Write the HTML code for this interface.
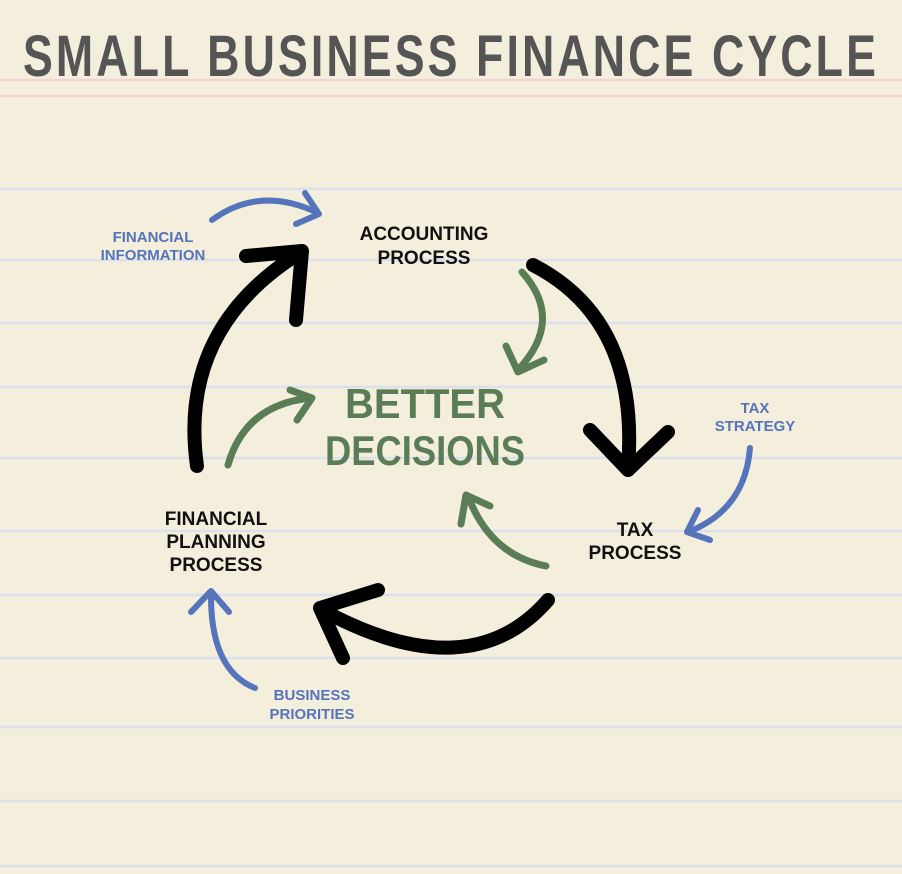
<!DOCTYPE html>
<html><head><meta charset="utf-8"><style>
html,body{margin:0;padding:0;background:#f4efdc}
svg{display:block}
text{font-family:"Liberation Sans",sans-serif;font-weight:bold;text-anchor:middle}
</style></head><body>
<svg width="902" height="874" viewBox="0 0 902 874" xmlns="http://www.w3.org/2000/svg">
<rect width="902" height="874" fill="#f4efdc"/>
<g stroke="#f3d6d2" stroke-width="2.5"><line x1="0" y1="80" x2="902" y2="80"/><line x1="0" y1="96" x2="902" y2="96"/></g>
<g stroke="#dce0ee" stroke-width="2.5">
<line x1="0" y1="189" x2="902" y2="189"/><line x1="0" y1="260" x2="902" y2="260"/>
<line x1="0" y1="323" x2="902" y2="323"/><line x1="0" y1="387" x2="902" y2="387"/>
<line x1="0" y1="458" x2="902" y2="458"/><line x1="0" y1="531" x2="902" y2="531"/>
<line x1="0" y1="595" x2="902" y2="595"/><line x1="0" y1="658" x2="902" y2="658"/>
<line x1="0" y1="727" x2="902" y2="727"/><line x1="0" y1="801" x2="902" y2="801"/>
<line x1="0" y1="866" x2="902" y2="866"/>
</g>
<text x="451" y="76" font-size="58" fill="#555" letter-spacing="4" textLength="856" lengthAdjust="spacingAndGlyphs">SMALL BUSINESS FINANCE CYCLE</text>
<g fill="none" stroke="#000" stroke-width="14" stroke-linecap="round" stroke-linejoin="round">
<path d="M197,466 Q178,330 298,254"/><path d="M246,256 L302,251 L296,320"/>
<path d="M533,265 Q640,320 628,468"/><path d="M590,430 L628,470 L668,432"/>
<path d="M548,600 Q470,690 322,610"/><path d="M343,658 L320,608 L378,590"/>
</g>
<g fill="none" stroke="#5a7d56" stroke-width="7" stroke-linecap="round" stroke-linejoin="round">
<path d="M522,272 Q565,320 518,370"/><path d="M506,346 L518,372 L544,360"/>
<path d="M228,465 Q245,405 310,398"/><path d="M290,390 L312,398 L297,420"/>
<path d="M546,566 Q490,555 468,496"/><path d="M461,524 L466,495 L490,506"/>
</g>
<g fill="none" stroke="#5574bb" stroke-width="6" stroke-linecap="round" stroke-linejoin="round">
<path d="M212,220 Q260,185 318,213"/><path d="M305,193 L319,214 L296,224"/>
<path d="M750,448 Q745,510 688,532"/><path d="M698,510 L687,532 L710,540"/>
<path d="M255,688 Q210,670 211,593"/><path d="M191,612 L211,591 L229,612"/>
</g>
<g fill="#111" font-size="19">
<text x="424" y="240">ACCOUNTING</text><text x="424" y="264">PROCESS</text>
<text x="216" y="525">FINANCIAL</text><text x="216" y="548">PLANNING</text><text x="216" y="571">PROCESS</text>
<text x="635" y="536">TAX</text><text x="635" y="559">PROCESS</text>
</g>
<g fill="#5a7d56" font-size="42" font-weight="normal">
<text x="425" y="418" textLength="160" lengthAdjust="spacingAndGlyphs">BETTER</text>
<text x="425" y="465" textLength="200" lengthAdjust="spacingAndGlyphs">DECISIONS</text>
</g>
<g fill="#5574bb" font-size="15">
<text x="153" y="242">FINANCIAL</text><text x="153" y="260">INFORMATION</text>
<text x="755" y="413">TAX</text><text x="755" y="431">STRATEGY</text>
<text x="312" y="700">BUSINESS</text><text x="312" y="719">PRIORITIES</text>
</g>
</svg>
</body></html>
